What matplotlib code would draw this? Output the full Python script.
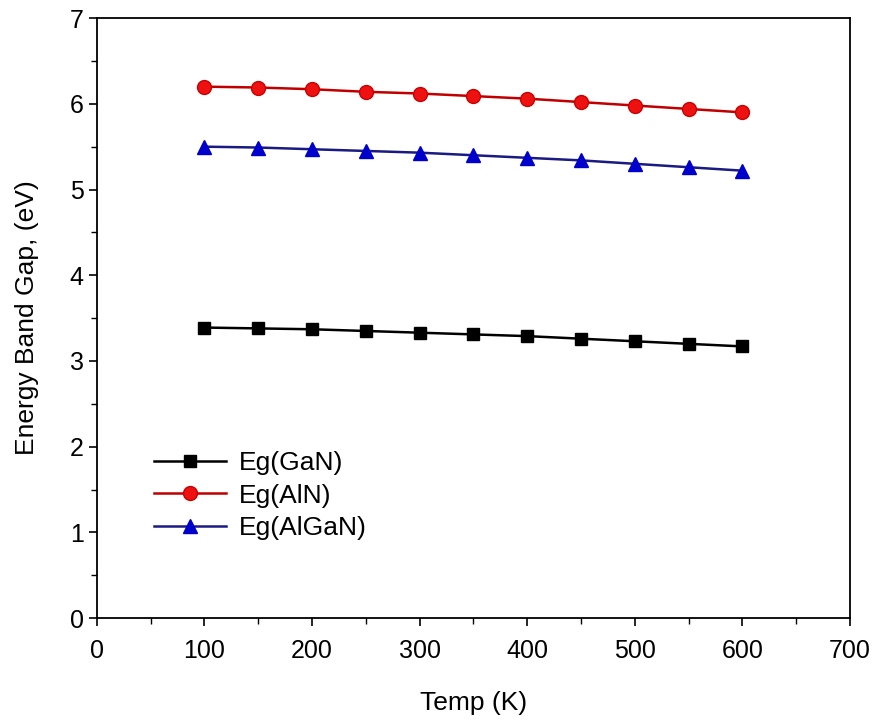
import matplotlib
matplotlib.use('Agg')
import matplotlib.pyplot as plt
from matplotlib.ticker import MultipleLocator

plt.rcParams['font.family'] = ['Liberation Sans', 'DejaVu Sans']

temp = [100, 150, 200, 250, 300, 350, 400, 450, 500, 550, 600]
eg_gan = [3.39, 3.38, 3.37, 3.35, 3.33, 3.31, 3.29, 3.26, 3.23, 3.20, 3.17]
eg_aln = [6.20, 6.19, 6.17, 6.14, 6.12, 6.09, 6.06, 6.02, 5.98, 5.94, 5.90]
eg_algan = [5.50, 5.49, 5.47, 5.45, 5.43, 5.40, 5.37, 5.34, 5.30, 5.26, 5.22]

fig = plt.figure(figsize=(8.8, 7.23), dpi=100)
ax = fig.add_axes([0.110, 0.145, 0.856, 0.830])

ax.plot(temp, eg_gan, color='k', marker='s', markersize=9, linewidth=1.8,
        label='Eg(GaN)')
ax.plot(temp, eg_aln, color='#c00000', marker='o', markersize=10, linewidth=1.8,
        markerfacecolor='#ee1111', markeredgecolor='#cc0000', label='Eg(AlN)')
ax.plot(temp, eg_algan, color='#1a1a80', marker='^', markersize=10, linewidth=1.8,
        markerfacecolor='#0000cc', markeredgecolor='#0000cc', label='Eg(AlGaN)')

ax.set_xlim(0, 700)
ax.set_ylim(0, 7)
ax.xaxis.set_major_locator(MultipleLocator(100))
ax.xaxis.set_minor_locator(MultipleLocator(50))
ax.yaxis.set_major_locator(MultipleLocator(1))
ax.yaxis.set_minor_locator(MultipleLocator(0.5))
ax.tick_params(which='major', direction='out', length=6, width=1.2, labelsize=18,
               top=False, right=False)
ax.tick_params(axis='x', which='major', pad=9)
ax.tick_params(which='minor', direction='out', length=4, width=1.0,
               top=False, right=False)
for s in ax.spines.values():
    s.set_linewidth(1.3)

ax.set_xlabel('Temp (K)', fontsize=19, labelpad=20)
ax.set_ylabel('Energy Band Gap, (eV)', fontsize=19, labelpad=22)

ax.legend(loc='upper left', bbox_to_anchor=(0.045, 0.318), frameon=False,
          fontsize=19, handlelength=2.7, handletextpad=0.5, labelspacing=0.32)

fig.savefig('out.png', dpi=100)
